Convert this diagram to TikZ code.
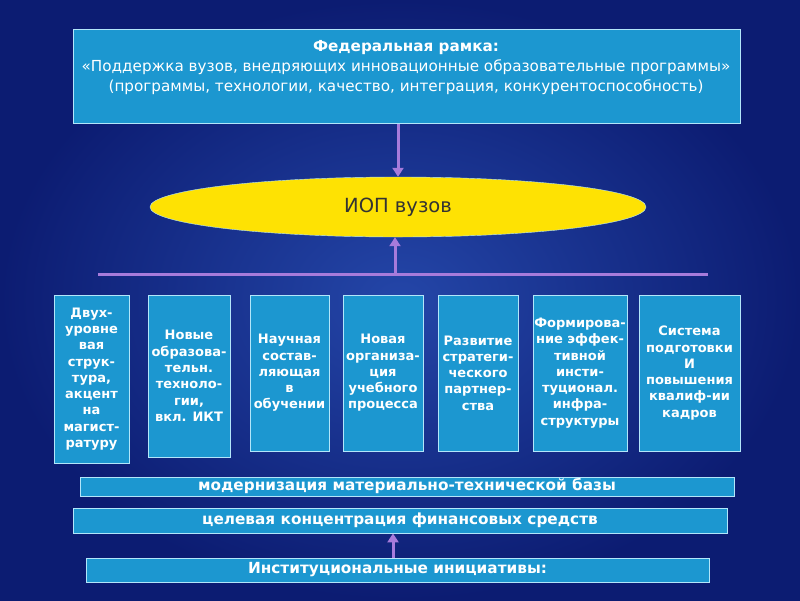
\documentclass[tikz,border=0pt]{standalone}
\usepackage{fontspec}
\setmainfont{DejaVu Sans}
\usetikzlibrary{arrows.meta,shapes.geometric}
\begin{document}
\begin{tikzpicture}[x=1pt,y=-1pt,
  bx/.style={draw=cyan!30, line width=0.8pt, fill=boxc, text=white, font=\bfseries\fontsize{13}{16.3}\selectfont, align=center, inner sep=0pt},
  bar/.style={bx, font=\bfseries\fontsize{15.3}{17}\selectfont},
  arr/.style={draw=arrc, line width=3pt, -{Triangle[length=9pt,width=11pt]}}]
\definecolor{boxc}{HTML}{1C97D0}
\definecolor{arrc}{HTML}{A77BDB}
\definecolor{bgin}{HTML}{2446A8}
\definecolor{bgout}{HTML}{0C1C72}
\useasboundingbox (0,0) rectangle (800,600);
\shade[inner color=bgin, outer color=bgout] (0,0) rectangle (800,600);
\node[bx, minimum width=667pt, minimum height=94pt, anchor=north west] (top) at (73,29) {};
\node[text=white, align=center, font=\fontsize{15.2}{20}\selectfont, anchor=north] (toptxt) at (406,37) {\textbf{Федеральная рамка:}\\«Поддержка вузов, внедряющих инновационные образовательные программы»\\(программы, технологии, качество, интеграция, конкурентоспособность)};
\node[draw=cyan!30, fill=yellow!85!orange, ellipse, minimum width=496pt, minimum height=60pt, font=\fontsize{19.5}{21}\selectfont, inner sep=0pt, text=black!80] (iop) at (398,207) {ИОП вузов};
\draw[arr] (top.south -| iop.north) -- (iop.north);
\coordinate (la) at (98,274); \coordinate (lb) at (708,274);
\draw[draw=arrc, line width=3pt] (la) -- (lb);
\coordinate (lm) at (395,274);
\draw[arr] (lm) -- (lm |- iop.south);
\foreach \n/\a/\b/\c/\d/\t in {
 b1/54/129/295/463/{Двух-\\уровне\\вая\\струк-\\тура,\\акцент\\на\\магист-\\ратуру},
 b2/148/230/295/457/{Новые\\образова-\\тельн.\\техноло-\\гии,\\вкл. ИКТ},
 b3/250/329/295/451/{Научная\\состав-\\ляющая\\в\\обучении},
 b4/343/423/295/451/{Новая\\организа-\\ция\\учебного\\процесса},
 b5/438/518/295/451/{Развитие\\стратеги-\\ческого\\партнер-\\ства},
 b6/533/627/295/451/{Формирова-\\ние эффек-\\тивной\\инсти-\\туционал.\\инфра-\\структуры},
 b7/639/740/295/451/{Система\\подготовки\\И\\повышения\\квалиф-ии\\кадров}}
{\node[bx, minimum width={\b-\a}, minimum height={\d-\c}] (\n) at ({(\a+\b)/2},{(\c+\d)/2}) {\t};}
\node[bar, minimum width=654pt, minimum height=19pt] (m1) at (407,486.5) {модернизация материально-технической базы};
\node[bar, minimum width=654pt, minimum height=25pt] (m2) at (400,520.5) {целевая концентрация финансовых средств};
\node[bar, minimum width=623pt, minimum height=24pt] (m3) at (397.5,570) {Институциональные инициативы:};
\draw[arr] (m3.north -| 393,0) -- (m2.south -| 393,0);
\end{tikzpicture}
\end{document}
